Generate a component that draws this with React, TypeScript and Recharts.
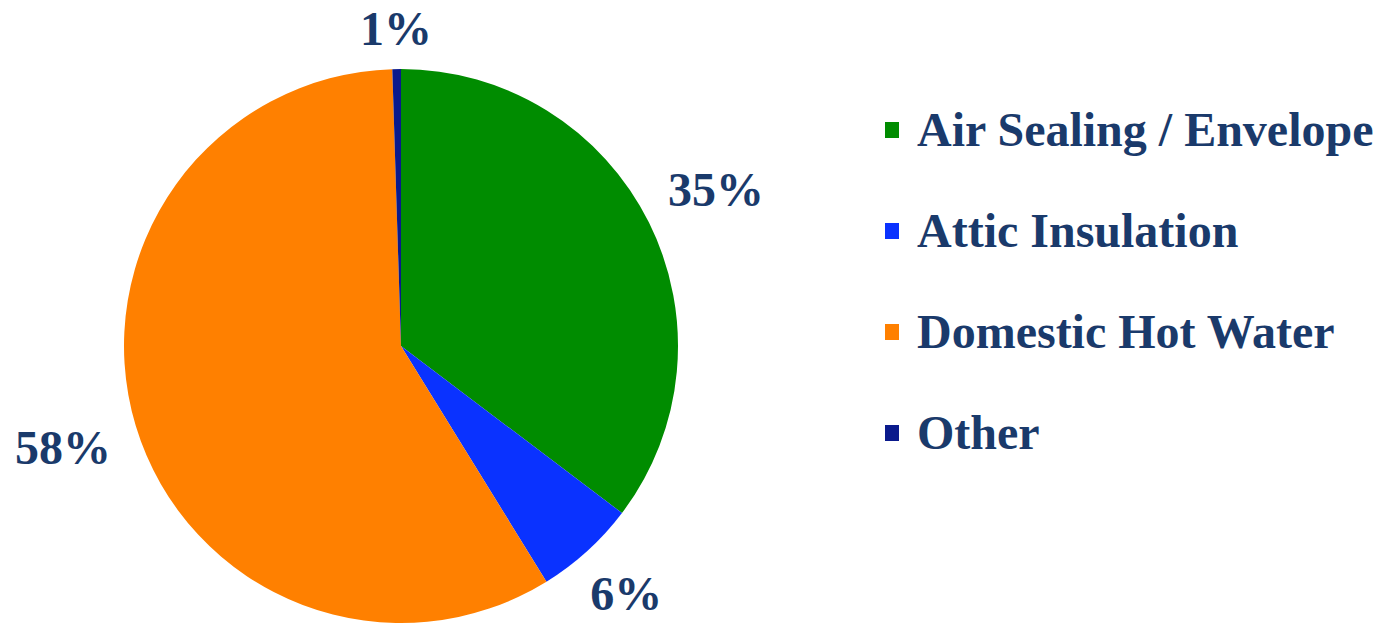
import React from "react";
import { PieChart, Pie, Cell } from "recharts";

const categories = ["Air Sealing / Envelope", "Attic Insulation", "Domestic Hot Water", "Other"];
const values = [35.3, 5.9, 58.3, 0.5];
const labels = ["35%", "6%", "58%", "1%"];
const colors = ["#008C00", "#0A32FF", "#FF8000", "#0A1A8C"];

const data = categories.map((name, i) => ({ name, value: values[i], label: labels[i] }));

const TEXT = "#1A3A6B";
const FONT = "'Liberation Serif', 'Times New Roman', serif";
const RADIAN = Math.PI / 180;

const renderLabel = (props: any) => {
  const { cx, cy, midAngle, outerRadius, index } = props;
  const text = labels[index];
  const w = text.length * 30;
  const h = 20;
  const cos = Math.cos(-midAngle * RADIAN);
  const sin = Math.sin(-midAngle * RADIAN);
  const ext = Math.abs(cos) * w / 2 + Math.abs(sin) * h / 2;
  const r = outerRadius + 30 + ext;
  const x = cx + r * cos;
  const y = cy + r * sin;
  return (
    <text x={x} y={y} textAnchor="middle" dominantBaseline="central" fill={TEXT}
      fontFamily={FONT} fontWeight="bold" fontSize={48}>
      {text}
    </text>
  );
};

export default function App() {
  return (
    <div style={{ position: "absolute", left: 0, top: 0, width: 1387, height: 628, background: "#fff" }}>
      <PieChart width={1387} height={628} margin={{ top: 0, right: 0, bottom: 0, left: 0 }}>
        <Pie
          data={data}
          dataKey="value"
          nameKey="name"
          cx={401}
          cy={346}
          outerRadius={277}
          startAngle={90}
          endAngle={-270}
          stroke="none"
          label={renderLabel}
          labelLine={false}
          isAnimationActive={false}
        >
          {data.map((d, i) => (
            <Cell key={d.name} fill={colors[i]} />
          ))}
        </Pie>
      </PieChart>
      <div style={{ position: "absolute", left: 885, top: 79, fontFamily: FONT, fontWeight: "bold", fontSize: 48, color: TEXT }}>
        {categories.map((c, i) => (
          <div key={c} style={{ display: "flex", alignItems: "center", height: 101, whiteSpace: "nowrap" }}>
            <span style={{ display: "inline-block", width: 14, height: 16, background: colors[i], marginRight: 18 }} />
            <span>{c}</span>
          </div>
        ))}
      </div>
    </div>
  );
}
